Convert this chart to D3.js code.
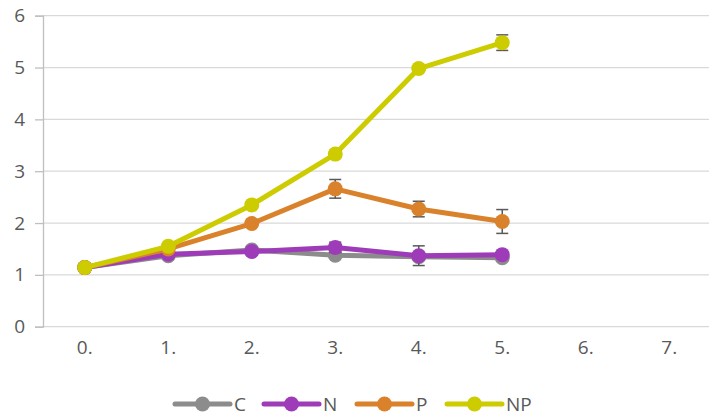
<!DOCTYPE html>
<html><head><meta charset="utf-8">
<script src="https://cdn.jsdelivr.net/npm/d3@7"></script>
<style>body{margin:0;background:#fff}svg{display:block}text{font-family:"Open Sans","Liberation Sans",sans-serif}</style>
</head><body><svg id="c" width="709" height="419"></svg>
<script>
const categories = ["0.","1.","2.","3.","4.","5.","6.","7."];
const yTicks = [0,1,2,3,4,5,6];
const seriesNames = ["C","N","P","NP"];
const seriesColors = ["#8c8c8c","#9e3bb8","#d9822b","#cccc00"];
const valuesC  = [1.14,1.37,1.48,1.38,1.35,1.33];
const valuesN  = [1.14,1.40,1.45,1.53,1.37,1.39];
const valuesP  = [1.14,1.50,1.99,2.66,2.27,2.03];
const valuesNP = [1.14,1.55,2.35,3.33,4.98,5.48];
const errC  = [0,0,0,0,0,0];
const errN  = [0,0.03,0.04,0.10,0.19,0.04];
const errP  = [0,0.03,0.06,0.18,0.15,0.23];
const errNP = [0,0.03,0.06,0.07,0.04,0.15];

const series = [
  {name:seriesNames[0], color:seriesColors[0], values:valuesC, err:errC},
  {name:seriesNames[1], color:seriesColors[1], values:valuesN, err:errN},
  {name:seriesNames[2], color:seriesColors[2], values:valuesP, err:errP},
  {name:seriesNames[3], color:seriesColors[3], values:valuesNP, err:errNP}
];

const svg = d3.select("#c");
const x = d3.scaleBand().domain(categories).range([43, 711]);
const y = d3.scaleLinear().domain([0,6]).range([326.7, 15.7]);

// gridlines
svg.append("g").selectAll("line").data(yTicks).join("line")
  .attr("x1",43).attr("x2",709).attr("y1",d=>y(d)).attr("y2",d=>y(d))
  .attr("stroke","#d9d9d9").attr("stroke-width",1.3);

// y axis
const yAxis = svg.append("g").attr("transform","translate(43,0)")
  .call(d3.axisLeft(y).tickValues(yTicks).tickSize(8).tickPadding(10).tickFormat(d3.format("d")));
yAxis.select(".domain").attr("stroke","#bfbfbf").attr("stroke-width",1.3);
yAxis.selectAll(".tick line").attr("stroke","#bfbfbf").attr("stroke-width",1.3);
yAxis.selectAll("text").attr("fill","#595959").style("font-size","19px");

// x axis labels
const xAxis = svg.append("g").attr("transform","translate(0,326.7)")
  .call(d3.axisBottom(x).tickSize(0).tickPadding(14));
xAxis.select(".domain").remove();
xAxis.selectAll("text").attr("fill","#595959").style("font-size","19px");

const cx = i => x(categories[i]) + x.bandwidth()/2;
const line = d3.line().x((d,i)=>cx(i)).y(d=>y(d));

series.forEach(s=>{
  const g = svg.append("g");
  g.append("path").datum(s.values).attr("d",line).attr("fill","none")
    .attr("stroke",s.color).attr("stroke-width",5).attr("stroke-linejoin","round");
  // error bars
  const eb = g.append("g").selectAll("g").data(s.values.map((v,i)=>({v,i,e:s.err[i]})).filter(d=>d.e>0)).join("g");
  eb.append("line").attr("x1",d=>cx(d.i)).attr("x2",d=>cx(d.i)).attr("y1",d=>y(d.v-d.e)).attr("y2",d=>y(d.v+d.e))
    .attr("stroke","#595959").attr("stroke-width",1.5);
  [1,-1].forEach(sg=>{
    eb.append("line").attr("x1",d=>cx(d.i)-6).attr("x2",d=>cx(d.i)+6)
      .attr("y1",d=>y(d.v+sg*d.e)).attr("y2",d=>y(d.v+sg*d.e))
      .attr("stroke","#595959").attr("stroke-width",1.5);
  });
  g.append("g").selectAll("circle").data(s.values).join("circle")
    .attr("cx",(d,i)=>cx(i)).attr("cy",d=>y(d)).attr("r",7.5).attr("fill",s.color);
});

// legend
const legX = [175, 264, 357, 447];
const leg = svg.append("g").selectAll("g").data(series).join("g")
  .attr("transform",(d,i)=>`translate(${legX[i]},404)`);
leg.append("line").attr("x1",0).attr("x2",55).attr("y1",0).attr("y2",0)
  .attr("stroke",d=>d.color).attr("stroke-width",5).attr("stroke-linecap","round");
leg.append("circle").attr("cx",27.5).attr("cy",0).attr("r",7.5).attr("fill",d=>d.color);
leg.append("text").attr("x",59).attr("y",0).attr("dy","0.35em").attr("fill","#595959")
  .style("font-size","19px").text(d=>d.name);
</script></body></html>
